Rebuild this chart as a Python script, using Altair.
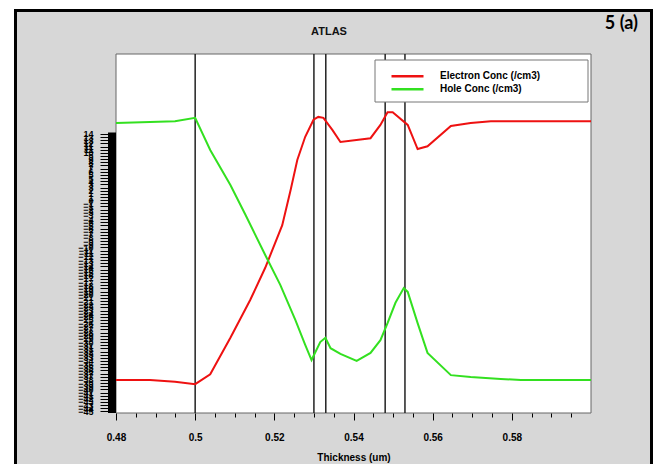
import altair as alt
import pandas as pd

# ---- data ----
electron_x = [0.48, 0.4886, 0.4949, 0.5, 0.5038, 0.5089, 0.5139, 0.5177, 0.5220, 0.5241,
              0.5258, 0.5278, 0.5299, 0.5311, 0.5324, 0.5347, 0.5367, 0.5443, 0.5468, 0.5486,
              0.5499, 0.5537, 0.5562, 0.5587, 0.5646, 0.5696, 0.5747, 0.6]
electron_y = [-38.0, -38.0, -38.4, -38.9, -36.8, -29.1, -21.1, -14.3, -5.3, 2.1,
              8.5, 13.4, 17.0, 17.6, 17.4, 14.8, 12.3, 13.1, 15.9, 18.6,
              18.6, 15.9, 10.8, 11.4, 15.7, 16.3, 16.7, 16.7]

hole_x = [0.48, 0.4886, 0.4949, 0.5, 0.5038, 0.5089, 0.5127, 0.5177, 0.5215, 0.5253,
          0.5278, 0.5294, 0.5316, 0.5329, 0.5342, 0.5367, 0.5408, 0.5443, 0.5468, 0.5486,
          0.5506, 0.5527, 0.5537, 0.5562, 0.5587, 0.5646, 0.5696, 0.5772, 0.5823, 0.6]
hole_y = [16.3, 16.5, 16.7, 17.4, 10.6, 3.2, -3.1, -11.6, -17.9, -25.3,
          -30.6, -33.8, -30.0, -29.1, -31.3, -32.5, -34.0, -32.3, -29.6, -26.0,
          -21.7, -18.6, -19.4, -26.0, -32.3, -37.0, -37.4, -37.8, -38.0, -38.0]

series_names = ["Electron Conc (/cm3)", "Hole Conc (/cm3)"]
series_colors = ["#ee1111", "#33e020"]

boundary_x = [0.5, 0.53, 0.533, 0.548, 0.553]

x_tick_values = [0.48, 0.485, 0.49, 0.495, 0.5, 0.505, 0.51, 0.515, 0.52, 0.525, 0.53, 0.535,
                 0.54, 0.545, 0.55, 0.555, 0.56, 0.565, 0.57, 0.575, 0.58, 0.585, 0.59, 0.595]
y_tick_values = [round(14 - k * 2 / 3, 4) for k in range(89)]
y_bar = {"top": [14.3], "bottom": [-45.0]}

title_text = "ATLAS"
panel_label = "5 (a)"
x_title = "Thickness (um)"

W, H = 475, 359
FONT = "Liberation Sans"

lines_df = pd.concat([
    pd.DataFrame({"x": electron_x, "y": electron_y, "series": series_names[0]}),
    pd.DataFrame({"x": hole_x, "y": hole_y, "series": series_names[1]}),
])

xscale = alt.Scale(domain=[0.48, 0.6], nice=False, zero=False)
yscale = alt.Scale(domain=[-45, 30.9], nice=False, zero=False)

major_test = "abs(datum.value*50 - round(datum.value*50)) < 0.01"

x_axis = alt.Axis(
    values=x_tick_values,
    labelExpr=f"{major_test} ? format(datum.value, '.2~f') : ''",
    tickSize={"condition": {"test": major_test, "value": 7}, "value": 4},
    tickColor="black", tickWidth=1, domain=False, grid=False,
    labelFont=FONT, labelFontSize=10, labelFontWeight="bold", labelColor="black",
    labelPadding=12, labelFlush=False, labelOverlap=False,
    title=x_title, titleFont=FONT, titleFontSize=10, titleFontWeight="bold",
    titleColor="black", titlePadding=10, zindex=1,
)
y_axis = alt.Axis(
    values=y_tick_values,
    labelExpr="format(round(datum.value), 'd')",
    tickSize=8, tickColor="black", tickWidth=1, domain=False, grid=False, offset=8,
    labelFont=FONT, labelFontSize=9, labelFontWeight="bold", labelColor="black",
    labelPadding=7, labelOverlap=False, labelFlush=False, labelBound=False,
    title=None, zindex=1,
)

one = pd.DataFrame({"k": [0]})

panel = alt.Chart(one).mark_rect(fill="#d7d7d7", stroke="black", strokeWidth=3).encode(
    x=alt.value(-100.5), x2=alt.value(535.5), y=alt.value(-43.5), y2=alt.value(440))

plotbox = alt.Chart(one).mark_rect(fill="white", stroke="#666666", strokeWidth=1).encode(
    x=alt.value(0), x2=alt.value(W), y=alt.value(0), y2=alt.value(H))

rules = alt.Chart(pd.DataFrame({"x": boundary_x})).mark_rule(color="#222222", strokeWidth=1.5).encode(
    x=alt.X("x:Q", scale=xscale, axis=x_axis))

bar = alt.Chart(pd.DataFrame(y_bar)).mark_rect(color="black").encode(
    y=alt.Y("top:Q", scale=yscale, axis=y_axis), y2="bottom:Q",
    x=alt.value(-8), x2=alt.value(0))

lines = alt.Chart(lines_df).mark_line(strokeWidth=2).encode(
    x=alt.X("x:Q", scale=xscale, axis=x_axis),
    y=alt.Y("y:Q", scale=yscale, axis=y_axis),
    color=alt.Color("series:N", scale=alt.Scale(domain=series_names, range=series_colors),
                    legend=alt.Legend(orient="none", legendX=285, legendY=15.7, title=None,
                                      symbolType="M-3.2,0H3.2", symbolSize=100,
                                      symbolStrokeWidth=2.5, labelOffset=26, rowPadding=1,
                                      padding=0, labelFont=FONT, labelFontSize=10,
                                      labelFontWeight="bold", labelColor="black")),
)

legendbox = alt.Chart(one).mark_rect(fill="white", stroke="#777777", strokeWidth=1).encode(
    x=alt.value(259), x2=alt.value(472), y=alt.value(6), y2=alt.value(48))

title = alt.Chart(one).mark_text(text=title_text, align="center", baseline="middle",
                                 font=FONT, fontSize=11, fontWeight="bold", color="#111111").encode(
    x=alt.value(213), y=alt.value(-22))

label = alt.Chart(one).mark_text(text=panel_label, align="right", baseline="middle",
                                 font="Lato", fontSize=18, fontWeight="bold", color="black").encode(
    x=alt.value(522), y=alt.value(-30))

chart = alt.layer(panel, plotbox, rules, bar, lines, legendbox, title, label).properties(
    width=W, height=H,
    padding={"left": 116, "top": 54, "right": 63, "bottom": 51},
    autosize=alt.AutoSizeParams(type="none"),
).configure(background="white").configure_view(stroke=None)

chart.save("out.html", embed_options={"renderer": "svg", "actions": False})
